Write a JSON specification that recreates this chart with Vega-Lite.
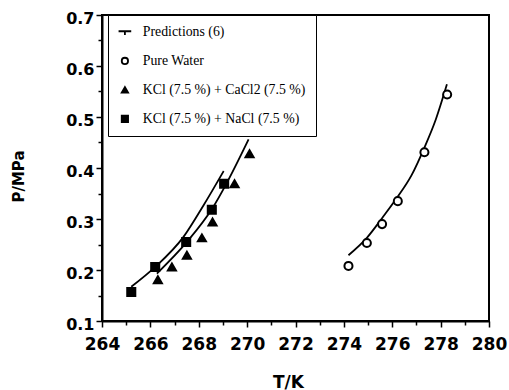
{
  "$schema": "https://vega.github.io/schema/vega-lite/v6.json",
  "autosize": "none",
  "padding": {"left": 102, "top": 15, "right": 20, "bottom": 69},
  "width": 387,
  "height": 306,
  "background": "white",
  "config": {
    "view": {"stroke": "black", "strokeWidth": 2},
    "point": {"size": 65},
    "axis": {
      "domainColor": "black", "domainWidth": 2, "tickColor": "black", "tickWidth": 1.5,
      "labelFont": "DejaVu Sans", "labelFontWeight": "bold", "labelColor": "black",
      "titleFont": "DejaVu Sans", "titleFontWeight": "bold", "titleColor": "black",
      "grid": false
    },
    "legend": {
      "strokeColor": "black", "fillColor": "white",
      "padding": 10, "rowPadding": 14, "labelLimit": 300, "symbolSize": 40,
      "labelFont": "Liberation Serif", "labelFontSize": 13.8, "labelColor": "black",
      "labelOffset": 11, "symbolStrokeColor": "black", "symbolStrokeWidth": 1.8
    }
  },
  "datasets": {
    "points": [
      {"T": 265.21, "P": 0.157, "series": "KCl (7.5 %) + NaCl (7.5 %)"},
      {"T": 266.2, "P": 0.206, "series": "KCl (7.5 %) + NaCl (7.5 %)"},
      {"T": 267.48, "P": 0.255, "series": "KCl (7.5 %) + NaCl (7.5 %)"},
      {"T": 268.54, "P": 0.318, "series": "KCl (7.5 %) + NaCl (7.5 %)"},
      {"T": 269.05, "P": 0.369, "series": "KCl (7.5 %) + NaCl (7.5 %)"},
      {"T": 266.31, "P": 0.181, "series": "KCl (7.5 %) + CaCl2 (7.5 %)"},
      {"T": 266.89, "P": 0.206, "series": "KCl (7.5 %) + CaCl2 (7.5 %)"},
      {"T": 267.51, "P": 0.229, "series": "KCl (7.5 %) + CaCl2 (7.5 %)"},
      {"T": 268.13, "P": 0.263, "series": "KCl (7.5 %) + CaCl2 (7.5 %)"},
      {"T": 268.57, "P": 0.294, "series": "KCl (7.5 %) + CaCl2 (7.5 %)"},
      {"T": 269.48, "P": 0.369, "series": "KCl (7.5 %) + CaCl2 (7.5 %)"},
      {"T": 270.1, "P": 0.428, "series": "KCl (7.5 %) + CaCl2 (7.5 %)"},
      {"T": 274.19, "P": 0.208, "series": "Pure Water"},
      {"T": 274.95, "P": 0.253, "series": "Pure Water"},
      {"T": 275.58, "P": 0.29, "series": "Pure Water"},
      {"T": 276.23, "P": 0.335, "series": "Pure Water"},
      {"T": 277.33, "P": 0.431, "series": "Pure Water"},
      {"T": 278.27, "P": 0.544, "series": "Pure Water"}
    ],
    "curves": [
      {"T": 274.19, "P": 0.229, "curve": "water"},
      {"T": 274.95, "P": 0.263, "curve": "water"},
      {"T": 275.6, "P": 0.303, "curve": "water"},
      {"T": 276.2, "P": 0.342, "curve": "water"},
      {"T": 276.8, "P": 0.386, "curve": "water"},
      {"T": 277.33, "P": 0.44, "curve": "water"},
      {"T": 277.8, "P": 0.495, "curve": "water"},
      {"T": 278.26, "P": 0.564, "curve": "water"},
      {"T": 265.21, "P": 0.167, "curve": "nacl"},
      {"T": 266.2, "P": 0.206, "curve": "nacl"},
      {"T": 267.37, "P": 0.265, "curve": "nacl"},
      {"T": 268.2, "P": 0.327, "curve": "nacl"},
      {"T": 269.03, "P": 0.394, "curve": "nacl"},
      {"T": 266.27, "P": 0.193, "curve": "cacl2"},
      {"T": 267.51, "P": 0.255, "curve": "cacl2"},
      {"T": 268.55, "P": 0.32, "curve": "cacl2"},
      {"T": 269.14, "P": 0.369, "curve": "cacl2"},
      {"T": 270.06, "P": 0.456, "curve": "cacl2"}
    ]
  },
  "encoding": {
    "x": {
      "field": "T", "type": "quantitative",
      "scale": {"domain": [264, 280], "nice": false, "zero": false},
      "axis": {
        "title": "T/K", "titleFontSize": 17, "titlePadding": 22, "titleX": 186,
        "values": [264,265,266,267,268,269,270,271,272,273,274,275,276,277,278,279,280],
        "labelExpr": "datum.value % 2 === 0 ? datum.label : ''",
        "tickSize": {"condition": {"test": "datum.value % 2 === 0", "value": 6}, "value": 4},
        "labelFontSize": 17, "labelPadding": 9, "labelFlush": false
      }
    },
    "y": {
      "field": "P", "type": "quantitative",
      "scale": {"domain": [0.1, 0.7], "nice": false, "zero": false},
      "axis": {
        "title": "P/MPa", "titleFontSize": 15, "titlePadding": 39, "titleY": 161,
        "values": [0.1,0.15,0.2,0.25,0.3,0.35,0.4,0.45,0.5,0.55,0.6,0.65,0.7],
        "format": ".1f",
        "labelExpr": "round(datum.value*100) % 10 === 0 ? datum.label : ''",
        "tickSize": {"condition": {"test": "round(datum.value*100) % 10 === 0", "value": 6}, "value": 4},
        "labelFontSize": 16, "labelPadding": 2, "labelOffset": 3, "labelFlush": false
      }
    }
  },
  "layer": [
    {
      "data": {"name": "curves"},
      "mark": {"type": "line", "color": "black", "strokeWidth": 1.8, "interpolate": "monotone"},
      "encoding": {"detail": {"field": "curve"}}
    },
    {
      "data": {"name": "points"},
      "mark": {"type": "point", "filled": false, "strokeWidth": 2, "opacity": 1},
      "encoding": {
        "shape": {
          "field": "series", "type": "nominal",
          "scale": {
            "domain": ["Predictions (6)", "Pure Water", "KCl (7.5 %) + CaCl2 (7.5 %)", "KCl (7.5 %) + NaCl (7.5 %)"],
            "range": ["M-2,-0.2H2M0,-0.2V1", "circle", "triangle-up", "square"]
          },
          "legend": {
            "title": null, "orient": "none", "legendX": 6, "legendY": 0,
            "encode": {"legend": {"update": {"strokeWidth": {"value": 1.8}}}}
          }
        },
        "fill": {
          "field": "series", "type": "nominal",
          "scale": {
            "domain": ["Predictions (6)", "Pure Water", "KCl (7.5 %) + CaCl2 (7.5 %)", "KCl (7.5 %) + NaCl (7.5 %)"],
            "range": ["transparent", "white", "black", "black"]
          },
          "legend": {
            "title": null, "orient": "none", "legendX": 6, "legendY": 0,
            "encode": {"legend": {"update": {"strokeWidth": {"value": 1.8}}}}
          }
        },
        "stroke": {
          "field": "series", "type": "nominal",
          "scale": {
            "domain": ["Predictions (6)", "Pure Water", "KCl (7.5 %) + CaCl2 (7.5 %)", "KCl (7.5 %) + NaCl (7.5 %)"],
            "range": ["black", "black", "black", "black"]
          },
          "legend": {
            "title": null, "orient": "none", "legendX": 6, "legendY": 0,
            "encode": {"legend": {"update": {"strokeWidth": {"value": 1.8}}}}
          }
        }
      }
    }
  ]
}
